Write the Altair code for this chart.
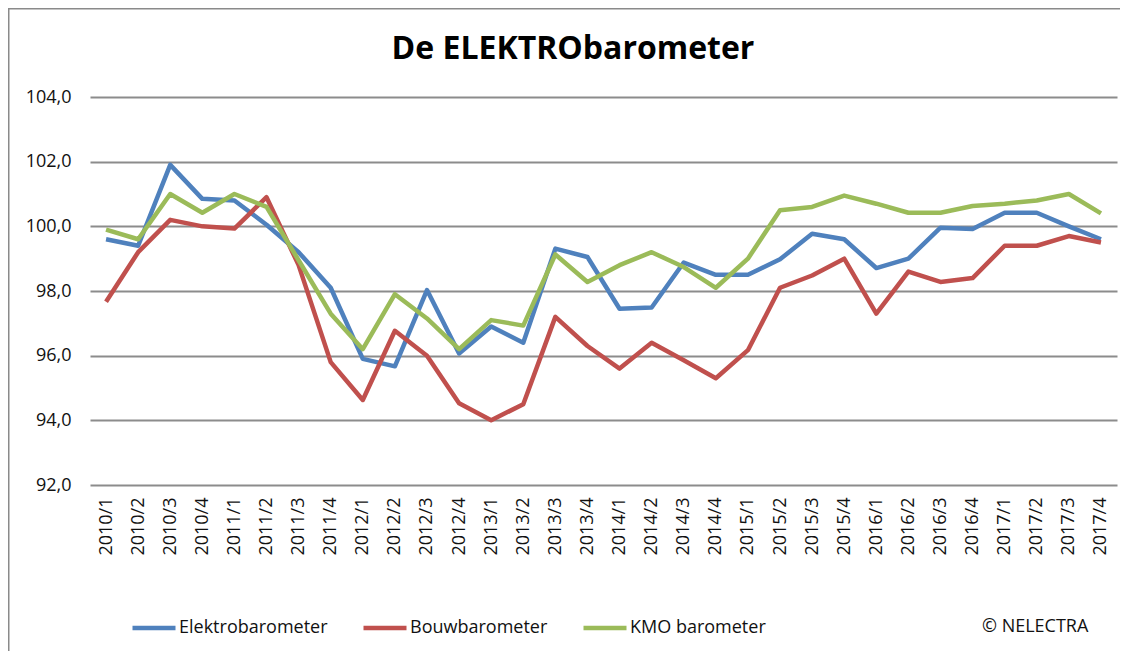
import altair as alt
import pandas as pd

quarters = [
    "2010/1", "2010/2", "2010/3", "2010/4",
    "2011/1", "2011/2", "2011/3", "2011/4",
    "2012/1", "2012/2", "2012/3", "2012/4",
    "2013/1", "2013/2", "2013/3", "2013/4",
    "2014/1", "2014/2", "2014/3", "2014/4",
    "2015/1", "2015/2", "2015/3", "2015/4",
    "2016/1", "2016/2", "2016/3", "2016/4",
    "2017/1", "2017/2", "2017/3", "2017/4",
]

elektro = [99.6, 99.4, 101.9, 100.85, 100.8, 100.05, 99.2, 98.1,
           95.9, 95.67, 98.03, 96.07, 96.9, 96.4, 99.31, 99.05,
           97.45, 97.49, 98.88, 98.5, 98.5, 98.98, 99.77, 99.6,
           98.71, 99.0, 99.96, 99.92, 100.42, 100.42, 100.0, 99.6]

bouw = [97.67, 99.2, 100.2, 100.0, 99.93, 100.9, 98.8, 95.8,
        94.63, 96.77, 96.0, 94.53, 94.0, 94.5, 97.2, 96.3,
        95.6, 96.4, 95.86, 95.3, 96.17, 98.1, 98.48, 99.0,
        97.3, 98.6, 98.28, 98.4, 99.4, 99.4, 99.7, 99.5]

kmo = [99.9, 99.6, 101.0, 100.42, 101.0, 100.6, 98.95, 97.3,
       96.2, 97.9, 97.15, 96.2, 97.1, 96.93, 99.13, 98.28,
       98.8, 99.2, 98.74, 98.1, 99.0, 100.5, 100.6, 100.95,
       100.7, 100.42, 100.42, 100.63, 100.7, 100.8, 101.0, 100.4]

series = ["Elektrobarometer", "Bouwbarometer", "KMO barometer"]
colors = ["#4F81BD", "#C0504D", "#9BBB59"]
y_ticks = [92, 94, 96, 98, 100, 102, 104]
title_text = "De ELEKTRObarometer"
credit_text = "© NELECTRA"

df = pd.DataFrame({
    "kwartaal": quarters * 3,
    "reeks": [series[0]] * len(quarters) + [series[1]] * len(quarters) + [series[2]] * len(quarters),
    "waarde": elektro + bouw + kmo,
})

FONT = "Open Sans"
W, H = 1027, 388

frame = alt.Chart(pd.DataFrame({"a": [0]})).mark_rect(
    fillOpacity=0, stroke="#8a8a8a", strokeWidth=2
).encode(
    x=alt.value(-81.5), x2=alt.value(1300), y=alt.value(-88.5), y2=alt.value(800)
)

lines = alt.Chart(df).mark_line(strokeWidth=4.5, strokeJoin="round").encode(
    x=alt.X("kwartaal:O", sort=quarters,
            scale=alt.Scale(type="point", padding=0.5),
            axis=alt.Axis(title=None, labelAngle=-90, labelFontSize=18, labelFont=FONT,
                          labelColor="#111111", ticks=False, domain=False, grid=False,
                          labelPadding=12)),
    y=alt.Y("waarde:Q",
            scale=alt.Scale(domain=[92, 104], nice=False, zero=False),
            axis=alt.Axis(title=None, values=y_ticks,
                          labelExpr="replace(format(datum.value, '.1f'), '.', ',')",
                          ticks=False, domain=False, gridColor="#8c8c8c", gridWidth=2,
                          labelPadding=19, labelFontSize=18, labelFont=FONT,
                          labelColor="#111111")),
    color=alt.Color("reeks:N", sort=series,
                    scale=alt.Scale(domain=series, range=colors),
                    legend=alt.Legend(title=None, orient="none", legendX=40, legendY=507,
                                      direction="horizontal", symbolType="stroke",
                                      symbolSize=1849, symbolStrokeWidth=4.5,
                                      labelFontSize=18, labelFont=FONT, labelColor="#111111",
                                      columnPadding=26, labelOffset=1)),
)

title_mark = alt.Chart(pd.DataFrame({"t": [title_text]})).mark_text(
    align="center", baseline="alphabetic", fontSize=32, fontWeight="bold",
    font=FONT, color="#000000"
).encode(text="t:N", x=alt.value(483), y=alt.value(-38))

credit = alt.Chart(pd.DataFrame({"t": [credit_text]})).mark_text(
    align="left", baseline="middle", fontSize=18, font=FONT, color="#111111"
).encode(text="t:N", x=alt.value(892), y=alt.value(530))

chart = alt.layer(frame, lines, title_mark, credit).properties(
    width=W, height=H,
    padding={"left": 82, "top": 89, "right": 3, "bottom": 166},
    autosize=alt.AutoSizeParams(type="none"),
).configure_view(stroke=None)

chart.save("out.html", embed_options={"renderer": "svg", "actions": False})
